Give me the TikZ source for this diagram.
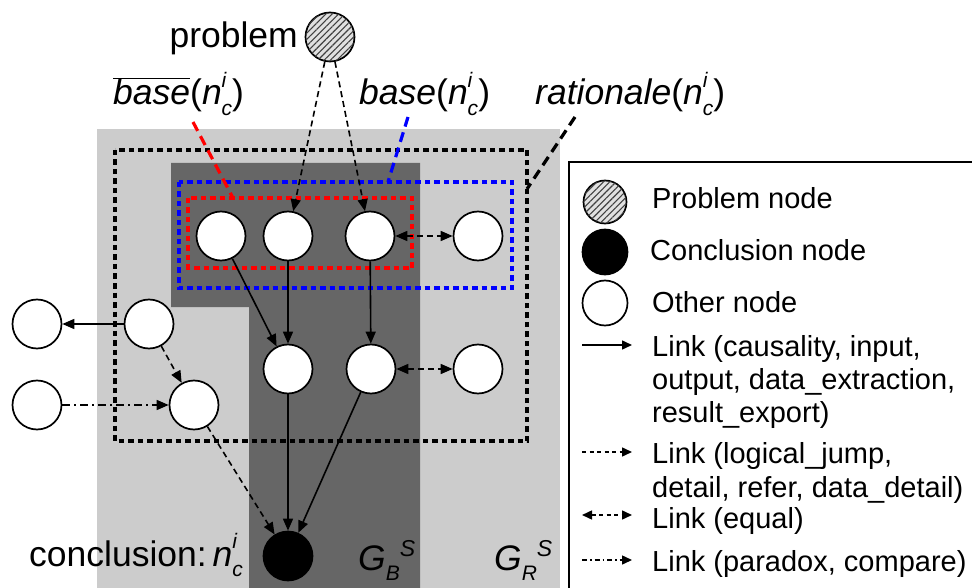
\documentclass[tikz,border=0pt]{standalone}
\usepackage{fontspec}
\setmainfont{Liberation Sans}
\usetikzlibrary{arrows.meta,patterns.meta}
\newcommand{\nci}{\textit{n}\rlap{\raisebox{0.5em}{\fontsize{21}{21}\selectfont\textit{i}}}\raisebox{-0.3em}{\fontsize{21}{21}\selectfont\textit{c}}}
\newcommand{\bigtxt}{\fontsize{35.5}{38}\selectfont}
\newcommand{\legtxt}{\fontsize{29}{30}\selectfont}
\tikzset{
  nd/.style={circle,draw=black,line width=1.7pt,fill=white,minimum size=49pt,inner sep=0pt},
  cnd/.style={nd,fill=black},
  pnd/.style={nd,fill=black!12,postaction={pattern={Lines[angle=45,distance=4.5pt,line width=1.1pt]},pattern color=black!75}},
  tip/.style={-{Triangle[length=12pt,width=10pt]}},
  tips/.style={{Triangle[length=12pt,width=10pt]}-{Triangle[length=12pt,width=10pt]}},
  solidlink/.style={tip,line width=1.6pt},
  dashlink/.style={tip,line width=1.6pt,dash pattern=on 6pt off 4pt},
  eqlink/.style={tips,line width=1.6pt,dash pattern=on 6pt off 4pt},
  ddlink/.style={tip,line width=1.6pt,dash pattern=on 8pt off 4pt on 2pt off 4pt},
  dotbox/.style={line width=3.2pt,dash pattern=on 5.5pt off 4pt},
  leader/.style={line width=3.2pt,dash pattern=on 10pt off 6pt},
  lbl/.style={inner sep=0pt,font=\bigtxt},
  leg/.style={inner sep=0pt,anchor=base west,font=\legtxt},
  legtip/.style={-{Triangle[length=10pt,width=9pt]},line width=1.5pt},
  legtips/.style={{Triangle[length=10pt,width=9pt]}-{Triangle[length=10pt,width=9pt]},line width=1.5pt},
}
\begin{document}
\begin{tikzpicture}[x=1pt,y=-1pt]
\useasboundingbox (0,0) rectangle (972,588);
% regions
\fill[black!20] (97,129) rectangle (560,588);
\fill[black!60] (171,163) -- (420,163) -- (420,588) -- (249,588) -- (249,307) -- (171,307) -- cycle;
% boxes
\draw[dotbox] (115,150) rectangle (527,441);
\draw[dotbox,blue] (179,182) rectangle (512,288);
\draw[dotbox,red] (188,198) rectangle (412,268);
% nodes
\node[pnd] (P) at (330,37) {};
\node[nd] (a1) at (221,236) {};
\node[nd] (a2) at (288,236) {};
\node[nd] (a3) at (370,236) {};
\node[nd] (a4) at (478,236) {};
\node[nd] (b1) at (288,369) {};
\node[nd] (b2) at (371,369) {};
\node[nd] (b3) at (478,369) {};
\node[nd] (l1) at (37,324) {};
\node[nd] (l2) at (149,324) {};
\node[nd] (l3) at (37,405) {};
\node[nd] (l4) at (194,405) {};
\node[cnd] (C) at (288,556) {};
% edges
\draw[dashlink] (P) -- (a2);
\draw[dashlink] (P) -- (a3);
\draw[eqlink] (a3) -- (a4);
\draw[solidlink] (a1) -- (b1);
\draw[solidlink] (a2) -- (b1);
\draw[solidlink] (a3) -- (b2);
\draw[eqlink] (b2) -- (b3);
\draw[solidlink] (b1) -- (C);
\draw[solidlink] (b2) -- (C);
\draw[solidlink] (l2) -- (l1);
\draw[dashlink] (l2) -- (l4);
\draw[ddlink] (l3) -- (l4);
\draw[dashlink] (l4) -- (C);
% leaders
\coordinate (redend) at (233,198);
\coordinate (blueend) at (388,182);
\coordinate (blackend) at (527,189);
\coordinate (redstart) at (193,122);
\coordinate (bluestart) at (408,117);
\coordinate (blackstart) at (575,117);
\draw[leader,red] (redstart) -- (redend);
\draw[leader,blue] (bluestart) -- (blueend);
\draw[leader] (blackstart) -- (blackend);
% labels
\node[lbl,anchor=base east] (tprob) at (298,48) {problem};
\node[lbl,anchor=base west] (tnbase) at (113,105) {$\overline{\mbox{\textit{base}}}$(\nci)};
\node[lbl,anchor=base west] (tbase) at (359,105) {\textit{base}(\nci)};
\node[lbl,anchor=base west] (trat) at (535,105) {\textit{rationale}(\nci)};
\node[lbl,anchor=base west] (tconc) at (29,566) {conclusion:\,\nci};
\node[lbl,anchor=base west] (tgb) at (358,570) {\textit{G}\raisebox{-0.3em}{\fontsize{21}{21}\selectfont\textit{B}}\raisebox{0.38em}{\fontsize{23}{23}\selectfont\textit{S}}};
\node[lbl,anchor=base west] (tgr) at (494,570) {\textit{G}\raisebox{-0.3em}{\fontsize{21}{21}\selectfont\textit{R}}\raisebox{0.38em}{\fontsize{23}{23}\selectfont\textit{S}}};
% legend
\draw[line width=1.6pt] (569,590) -- (569,162) -- (975,162);
\node[pnd,minimum size=43pt] (lp) at (605,202) {};
\node[cnd,minimum size=45pt] (lc) at (605,252) {};
\node[nd,minimum size=45pt] (lo) at (605,303) {};
\coordinate (s1) at (582,345); \coordinate (e1) at (632,345);
\coordinate (s2) at (582,452); \coordinate (e2) at (632,452);
\coordinate (s3) at (582,515); \coordinate (e3) at (632,515);
\coordinate (s4) at (582,560); \coordinate (e4) at (632,560);
\draw[legtip] (s1) -- (e1);
\draw[legtip,dash pattern=on 4pt off 3.5pt] (s2) -- (e2);
\draw[legtips,dash pattern=on 4pt off 3.5pt] (s3) -- (e3);
\draw[legtip,dash pattern=on 5pt off 3pt on 1.5pt off 3pt] (s4) -- (e4);
\node[leg] (g1) at (652,209) {Problem node};
\node[leg] (g2) at (650,261) {Conclusion node};
\node[leg] (g3) at (652,312) {Other node};
\node[leg] (g4) at (652,356) {Link (causality, input,};
\node[leg] (g5) at (652,389) {output, data\_extraction,};
\node[leg] (g6) at (652,422) {result\_export)};
\node[leg] (g7) at (652,463) {Link (logical\_jump,};
\node[leg] (g8) at (652,497) {detail, refer, data\_detail)};
\node[leg] (g9) at (652,528) {Link (equal)};
\node[leg] (g10) at (652,571) {Link (paradox, compare)};
\end{tikzpicture}
\end{document}
